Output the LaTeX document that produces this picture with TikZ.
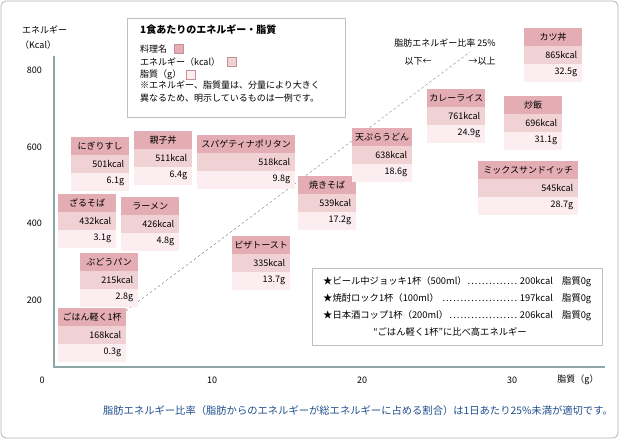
\documentclass[tikz,border=0pt]{standalone}
\usepackage{fontspec}
\setmainfont{Noto Sans CJK JP}
\definecolor{ttl}{HTML}{E4ADB3}
\definecolor{kc}{HTML}{F0D2D5}
\definecolor{gr}{HTML}{FCEDF0}
\definecolor{ttlline}{HTML}{C98F96}
\definecolor{axisc}{HTML}{8FA6A6}
\definecolor{capc}{HTML}{1F4E8C}
\newcommand\foodcard[7]{%
  \node[rowbox,fill=ttl,minimum width=#4,anchor=north west,align=center] (#1t) at (#2,#3) {#5};
  \draw[ttlline] (#1t.south west) -- (#1t.south east);
  \node[rowbox,fill=kc,minimum width=#4,anchor=north west,align=right,text width=#4-10pt] (#1k) at (#1t.south west) {#6};
  \node[rowbox,fill=gr,minimum width=#4,anchor=north west,align=right,text width=#4-10pt] (#1g) at (#1k.south west) {#7};
}
\newcommand\mydots{\leaders\hbox to 3.6pt{\hss.\hss}\hfill}
\tikzset{
  rowbox/.style={minimum height=17.5pt,inner sep=0pt,font=\fontsize{9}{10}\selectfont},
  lbl/.style={font=\fontsize{9}{10}\selectfont,inner sep=0pt},
  sw/.style={minimum width=9pt,minimum height=9pt,inner sep=0pt,draw=ttlline}
}
\begin{document}
\begin{tikzpicture}[x=1pt,y=-1pt]
\useasboundingbox (0,0) rectangle (620,440);
\draw[gray!60,rounded corners=5pt,line width=0.8pt] (1,1) rectangle (618,438);
% axes
\draw[axisc,line width=2pt] (54,56) -- (54,367) -- (605,367);
\node[lbl,anchor=west] (yt1) at (22,30) {エネルギー};
\node[lbl,anchor=west] (yt2) at (20,45) {（Kcal）};
\foreach \v/\y in {800/70,600/147,400/223,200/300}{\node[lbl,anchor=east] (y\v) at (42,\y) {\v};}
\node[lbl] (x0) at (42,380) {0};
\node[lbl] (x10) at (212,380) {10};
\node[lbl] (x20) at (362,380) {20};
\node[lbl] (x30) at (512,380) {30};
\node[lbl] (xt) at (578,380) {脂質（g）};
% diagonal
\coordinate (d1) at (58,362);
\coordinate (d2) at (470,52);
\draw[gray,line width=0.4pt,dash pattern=on 2.5pt off 2.5pt] (d1) -- (d2);
\node[lbl] (r25) at (445,43) {脂肪エネルギー比率 25\%};
\node[lbl] (lo) at (418,61) {以下←};
\node[lbl] (hi) at (482,61) {→以上};
% legend
\draw[gray!50,fill=white,line width=0.8pt] (127,18) rectangle (345,117);
\node[lbl,anchor=west,font=\fontsize{10}{11}\selectfont\bfseries] (lt) at (140,30) {1食あたりのエネルギー・脂質};
\node[lbl,anchor=west] (l1) at (140,49) {料理名};
\node[sw,fill=ttl,anchor=west] (s1) at (174,49) {};
\node[lbl,anchor=west] (l2) at (140,62) {エネルギー（kcal）};
\node[sw,fill=kc,anchor=west] (s2) at (227,62) {};
\node[lbl,anchor=west] (l3) at (140,75) {脂質（g）};
\node[sw,fill=gr,anchor=west] (s3) at (186,75) {};
\node[lbl,anchor=north west,align=left,font=\fontsize{9}{12.5}\selectfont] (l4) at (140,81) {※エネルギー、脂質量は、分量により大きく\\異なるため、明示しているものは一例です。};
% cards
\foodcard{a}{71}{137}{58pt}{にぎりすし}{501kcal}{6.1g}
\foodcard{b}{134}{131}{58pt}{親子丼}{511kcal}{6.4g}
\foodcard{c}{197}{135}{98pt}{スパゲティナポリタン}{518kcal}{9.8g}
\foodcard{d}{58}{194}{58pt}{ざるそば}{432kcal}{3.1g}
\foodcard{e}{121}{197}{58pt}{ラーメン}{426kcal}{4.8g}
\foodcard{f}{80}{253}{58pt}{ぶどうパン}{215kcal}{2.8g}
\foodcard{g}{58}{308}{68pt}{ごはん軽く1杯}{168kcal}{0.3g}
\foodcard{h}{232}{236}{58pt}{ピザトースト}{335kcal}{13.7g}
\foodcard{i}{298}{176}{58pt}{焼きそば}{539kcal}{17.2g}
\foodcard{j}{352}{128}{60pt}{天ぷらうどん}{638kcal}{18.6g}
\foodcard{k}{427}{89}{58pt}{カレーライス}{761kcal}{24.9g}
\foodcard{l}{504}{96}{58pt}{炒飯}{696kcal}{31.1g}
\foodcard{m}{524}{28}{58pt}{カツ丼}{865kcal}{32.5g}
\foodcard{n}{478}{161}{100pt}{ミックスサンドイッチ}{545kcal}{28.7g}
% info box
\draw[gray!50,fill=white,line width=0.8pt] (312,268) rectangle (602,345);
\tikzset{info/.style={lbl,font=\fontsize{9.3}{11}\selectfont,text width=268pt,align=left}}
\node[info,anchor=west] (i1) at (323,282) {★ビール中ジョッキ1杯（500ml）\mydots 200kcal\quad 脂質0g};
\node[info,anchor=west] (i2) at (323,299) {★焼酎ロック1杯（100ml）\mydots 197kcal\quad 脂質0g};
\node[info,anchor=west] (i3) at (323,316) {★日本酒コップ1杯（200ml）\mydots 206kcal\quad 脂質0g};
\node[lbl,font=\fontsize{9.3}{11}\selectfont] (i4) at (450,332) {“ごはん軽く1杯”に比べ高エネルギー};
% caption
\node[lbl,text=capc,font=\fontsize{10.3}{11}\selectfont] (cap) at (358,411) {脂肪エネルギー比率（脂肪からのエネルギーが総エネルギーに占める割合）は1日あたり25\%未満が適切です。};
\end{tikzpicture}
\end{document}
